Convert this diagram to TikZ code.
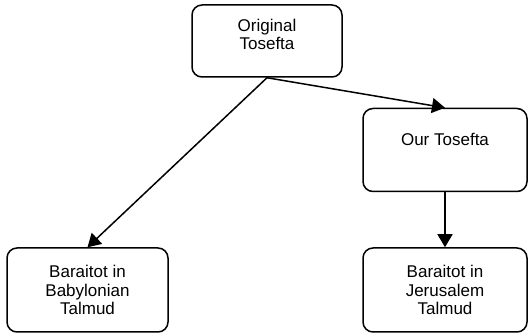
\documentclass[tikz,border=0pt]{standalone}
\usepackage{fontspec}
\setmainfont{Liberation Sans}
\usetikzlibrary{arrows.meta}

\begin{document}
\begin{tikzpicture}[x=1pt,y=1pt,inner sep=0pt,
  srcbox/.style={rectangle,draw=black,line width=1.5pt,rounded corners=10pt,
    align=center,font=\fontsize{17}{18.5}\selectfont},
  srcarrow/.style={line width=1.5pt,-{Triangle[length=13pt,width=15pt]}}]
\useasboundingbox (0,0) rectangle (528,335);
\node at (267,294) [srcbox,minimum width=150,minimum height=72,text depth=13pt] (Orig) {Original\\Tosefta};
\node at (445,185) [srcbox,minimum width=164,minimum height=83,text depth=21pt] (Ours) {Our Tosefta};
\node at (87.5,45) [srcbox,minimum width=161,minimum height=84] (Bavli) {Baraitot in\\Babylonian\\Talmud};
\node at (445,45) [srcbox,minimum width=164,minimum height=84] (Yerushalmi) {Baraitot in\\Jerusalem\\Talmud};
\draw [srcarrow] (Orig.south) -- (Ours.north);
\draw [srcarrow] (Orig.south) -- (Bavli.north);
\draw [srcarrow] (Ours.south) -- (Yerushalmi.north);

\end{tikzpicture}
\end{document}
